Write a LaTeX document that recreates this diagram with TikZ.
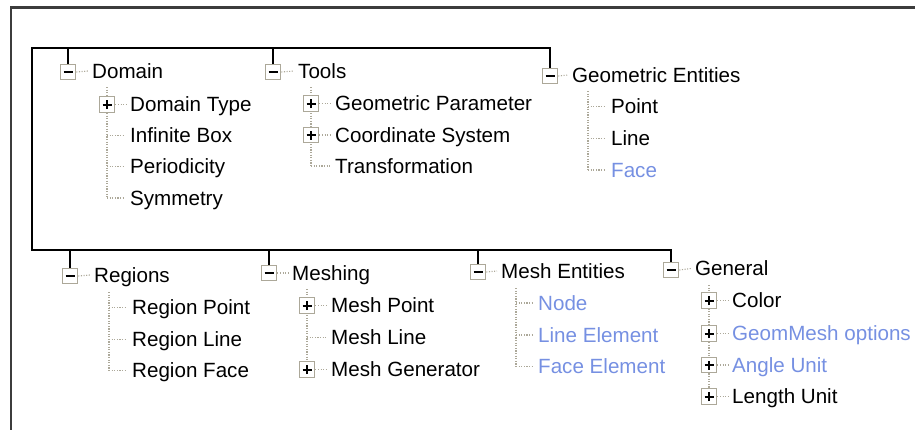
\documentclass[tikz,border=0pt]{standalone}
\usepackage{fontspec}
\setmainfont{Liberation Sans}

\definecolor{boxgray}{RGB}{172,168,153}
\definecolor{dimblue}{RGB}{118,144,226}
\definecolor{framegray}{RGB}{60,60,60}

\tikzset{
  tog/.style={draw=boxgray, fill=white, line width=1.2pt, minimum size=15.5pt, inner sep=0pt},
  minus/.style={tog, path picture={
      \draw[black, line width=2pt] (path picture bounding box.center) +(-4.5pt,0) -- +(4.5pt,0);}},
  plus/.style={tog, path picture={
      \draw[black, line width=2pt] (path picture bounding box.center) +(-4.5pt,0) -- +(4.5pt,0)
                                   (path picture bounding box.center) +(0,-4.5pt) -- +(0,4.5pt);}},
  item/.style={anchor=west, inner sep=0pt, text height=14.8pt, text depth=0pt,
      font=\fontsize{20.6}{24}\selectfont},
  dots/.style={boxgray, line width=1.1pt, dash pattern=on 1.1pt off 1.5pt},
  branch/.style={line width=2pt}
}

\begin{document}
\begin{tikzpicture}[x=1pt, y=-1pt]
  \useasboundingbox (0,0) rectangle (915,429);
  % outer frame: only top and left edges show
  \draw[framegray, line width=2.4pt] (925,7.5) -- (11,7.5) -- (11,440);

  %================= Top level groups =================
  \node[minus] (bDomain)  at (68,72)  {};
  \node[item]  (tDomain)  at (92,71)  {Domain};
  \node[minus] (bTools)   at (273,72) {};
  \node[item]  (tTools)   at (298,71) {Tools};
  \node[minus] (bGeo)     at (550,76) {};
  \node[item]  (tGeo)     at (572,75) {Geometric Entities};

  \node[minus] (bRegions) at (70,276)  {};
  \node[item]  (tRegions) at (94,275)  {Regions};
  \node[minus] (bMeshing) at (269,273) {};
  \node[item]  (tMeshing) at (292,273) {Meshing};
  \node[minus] (bMeshEnt) at (478,272) {};
  \node[item]  (tMeshEnt) at (501,271) {Mesh Entities};
  \node[minus] (bGeneral) at (671,270) {};
  \node[item]  (tGeneral) at (695,268.5) {General};

  \foreach \g in {Domain,Tools,Geo,Regions,Meshing,MeshEnt,General}
    \draw[dots] (b\g.east) -- ([xshift=-4pt]t\g.west);

  %================= Bracket joining the groups =================
  \coordinate (cTop) at (32,48);
  \coordinate (cBot) at (32,250);
  \draw[branch] (bGeo.north) |- (cTop) -- (cBot) -| (bGeneral.north);
  \foreach \b in {bDomain,bTools}
    \draw[branch] (\b.north) -- (\b.north |- cTop);
  \foreach \b in {bRegions,bMeshing,bMeshEnt}
    \draw[branch] (\b.north) -- (\b.north |- cBot);

  %================= Domain =================
  \coordinate (sDomain) at (107,87);
  \coordinate (eDomain) at (107,198);
  \draw[dots] (sDomain) -- (eDomain);
  \node[plus] (bDomType) at (107,104.5) {};
  \node[item] (tDomType) at (130,104.5) {Domain Type};
  \draw[dots] (bDomType.east) -- ([xshift=-4pt]tDomType.west);
  \foreach \y/\n/\txt in {135.5/InfBox/Infinite Box, 166.5/Period/Periodicity, 198/Symm/Symmetry}{
    \coordinate (k\n) at (107,\y);
    \node[item] (t\n) at (130,\y) {\txt};
    \draw[dots] (k\n) -- ([xshift=-5pt]t\n.west);
  }

  %================= Tools =================
  \coordinate (sTools) at (311,87);
  \coordinate (eTools) at (311,166);
  \draw[dots] (sTools) -- (eTools);
  \foreach \y/\n/\txt in {103.5/GeoPar/Geometric Parameter, 135/CoSys/Coordinate System}{
    \node[plus] (b\n) at (311,\y) {};
    \node[item] (t\n) at (335,\y) {\txt};
    \draw[dots] (b\n.east) -- ([xshift=-4pt]t\n.west);
  }
  \coordinate (kTransf) at (311,166);
  \node[item] (tTransf) at (335,166) {Transformation};
  \draw[dots] (kTransf) -- ([xshift=-5pt]tTransf.west);

  %================= Geometric Entities =================
  \coordinate (sGeo) at (588,91);
  \coordinate (eGeo) at (588,170);
  \draw[dots] (sGeo) -- (eGeo);
  \foreach \y/\n/\txt/\c in {106.5/Point/Point/black, 138.5/Line/Line/black, 170/Face/Face/dimblue}{
    \coordinate (k\n) at (588,\y);
    \node[item, text=\c] (t\n) at (611,\y) {\txt};
    \draw[dots] (k\n) -- ([xshift=-5pt]t\n.west);
  }

  %================= Regions =================
  \coordinate (sRegions) at (109,292);
  \coordinate (eRegions) at (109,370.5);
  \draw[dots] (sRegions) -- (eRegions);
  \foreach \y/\n/\txt in {307.5/RPoint/Region Point, 339.5/RLine/Region Line, 370.5/RFace/Region Face}{
    \coordinate (k\n) at (109,\y);
    \node[item] (t\n) at (132,\y) {\txt};
    \draw[dots] (k\n) -- ([xshift=-5pt]t\n.west);
  }

  %================= Meshing =================
  \coordinate (sMeshing) at (307,289);
  \coordinate (eMeshing) at (307,369.5);
  \draw[dots] (sMeshing) -- (eMeshing);
  \foreach \y/\n/\txt in {305.5/MPoint/Mesh Point, 369.5/MGen/Mesh Generator}{
    \node[plus] (b\n) at (307,\y) {};
    \node[item] (t\n) at (331,\y) {\txt};
    \draw[dots] (b\n.east) -- ([xshift=-4pt]t\n.west);
  }
  \coordinate (kMLine) at (307,337.5);
  \node[item] (tMLine) at (331,337.5) {Mesh Line};
  \draw[dots] (kMLine) -- ([xshift=-5pt]tMLine.west);

  %================= Mesh Entities =================
  \coordinate (sMeshEnt) at (516,288);
  \coordinate (eMeshEnt) at (516,366.5);
  \draw[dots] (sMeshEnt) -- (eMeshEnt);
  \foreach \y/\n/\txt in {303/Node/Node, 335/LElem/Line Element, 366.5/FElem/Face Element}{
    \coordinate (k\n) at (516,\y);
    \node[item, text=dimblue] (t\n) at (538,\y) {\txt};
    \draw[dots] (k\n) -- ([xshift=-5pt]t\n.west);
  }

  %================= General =================
  \coordinate (sGeneral) at (709,285);
  \coordinate (eGeneral) at (709,396.5);
  \draw[dots] (sGeneral) -- (eGeneral);
  \foreach \y/\n/\txt/\c in {300.5/Color/Color/black, 333.5/GMOpt/GeomMesh options/dimblue,
                             365/AUnit/Angle Unit/dimblue, 396.5/LUnit/Length Unit/black}{
    \node[plus] (b\n) at (709,\y) {};
    \node[item, text=\c] (t\n) at (732,\y) {\txt};
    \draw[dots] (b\n.east) -- ([xshift=-4pt]t\n.west);
  }
\end{tikzpicture}
\end{document}
